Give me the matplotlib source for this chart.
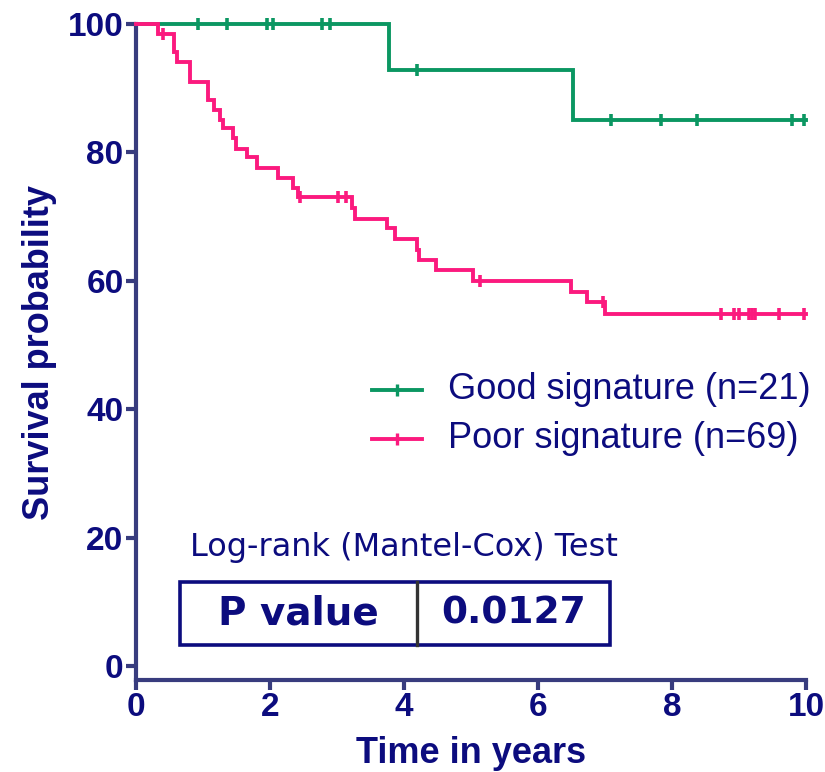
import matplotlib
matplotlib.use("Agg")
import matplotlib.pyplot as plt
from matplotlib.patches import Rectangle

# ---- data ----
good_event_times = [3.78, 6.52]
good_event_surv = [92.9, 85.0]
good_censor_times = [0.93, 1.36, 1.95, 2.04, 2.78, 2.90, 4.19, 7.09, 7.83, 8.37, 9.79, 9.97]

poor_event_times = [0.33, 0.57, 0.61, 0.81, 1.08, 1.16, 1.25, 1.30, 1.45, 1.49, 1.65, 1.80,
                    2.12, 2.35, 2.42, 3.22, 3.27, 3.74, 3.87, 4.20, 4.23, 4.48, 5.03, 6.49,
                    6.73, 7.00]
poor_event_surv = [98.5, 95.6, 94.1, 91.0, 88.2, 86.6, 85.0, 83.8, 82.2, 80.6, 79.3, 77.5,
                   76.0, 74.4, 73.0, 71.3, 69.7, 68.2, 66.5, 64.8, 63.2, 61.7, 60.0, 58.3,
                   56.7, 54.9]
poor_censor_times = [0.40, 2.45, 3.02, 3.13, 5.13, 6.97, 8.73, 8.92, 9.00, 9.15, 9.20, 9.24,
                     9.60, 9.97]

group_labels = ["Good signature (n=21)", "Poor signature (n=69)"]
x_ticks = [0, 2, 4, 6, 8, 10]
y_ticks = [0, 20, 40, 60, 80, 100]
test_title = "Log-rank (Mantel-Cox) Test"
p_label = "P value"
p_value = "0.0127"

GREEN = "#0b9762"
PINK = "#fb1a7e"
NAVY = "#0c0c7e"
AXC = "#383c7e"


def km_curve(ev_t, ev_s, end=10.0):
    xs = [0.0] + list(ev_t) + [end]
    ys = [100.0] + list(ev_s) + [ev_s[-1]]
    return xs, ys


def surv_at(t, ev_t, ev_s):
    s = 100.0
    for et, es in zip(ev_t, ev_s):
        if et <= t:
            s = es
    return s


fig = plt.figure(figsize=(8.25, 7.72), dpi=100)
ax = fig.add_axes([136 / 825, (772 - 680) / 772, (806 - 136) / 825, (680 - 24) / 772])

ymin = -100 * 14 / 642
ax.set_xlim(0, 10)
ax.set_ylim(ymin, 100)

for ev_t, ev_s, cens, col in [
    (good_event_times, good_event_surv, good_censor_times, GREEN),
    (poor_event_times, poor_event_surv, poor_censor_times, PINK),
]:
    xs, ys = km_curve(ev_t, ev_s)
    ax.step(xs, ys, where="post", color=col, lw=2.8, clip_on=False, zorder=3,
            solid_joinstyle="miter")
    cy = [surv_at(t, ev_t, ev_s) for t in cens]
    ax.plot(cens, cy, linestyle="none", marker="|", markersize=8, markeredgewidth=2.6,
            color=col, clip_on=False, zorder=3)

for sp in ["top", "right"]:
    ax.spines[sp].set_visible(False)
for sp in ["left", "bottom"]:
    ax.spines[sp].set_linewidth(3.0)
    ax.spines[sp].set_color(AXC)
    ax.spines[sp].set_capstyle("projecting")

ax.set_xticks(x_ticks)
ax.set_yticks(y_ticks)
ax.tick_params(axis="both", colors=AXC, width=3.0, length=7, labelcolor=NAVY,
               labelsize=24, pad=2)
for lbl in ax.get_xticklabels() + ax.get_yticklabels():
    lbl.set_fontfamily("Liberation Sans")
    lbl.set_fontweight("bold")

ax.set_xlabel("Time in years", fontsize=26, fontweight="bold", color=NAVY,
              family="Liberation Sans", labelpad=9)
ax.set_ylabel("Survival probability", fontsize=26, fontweight="bold", color=NAVY,
              family="Liberation Sans", labelpad=8)

# legend (manual, in data coords of the axes)
for i, (col, lab) in enumerate([(GREEN, group_labels[0]), (PINK, group_labels[1])]):
    ly = 43.0 - i * 7.6
    ax.plot([3.52, 4.27], [ly, ly], color=col, lw=2.8, zorder=3)
    ax.plot([3.9], [ly], marker="|", markersize=8, markeredgewidth=2.4, color=col)
    ax.text(4.66, ly, lab, fontsize=26, color=NAVY, family="Liberation Sans",
            va="center", ha="left")

# log-rank table
ax.text(4.0, 18.4, test_title, fontsize=23, color=NAVY, family="DejaVu Sans",
        ha="center", va="center")
box_x0 = (180 - 136) / 67
box_x1 = (610 - 136) / 67
box_y0 = (666 - 645) / 6.42
box_y1 = (666 - 582) / 6.42
div_x = (417 - 136) / 67
ax.add_patch(Rectangle((box_x0, box_y0), box_x1 - box_x0, box_y1 - box_y0,
                       fill=False, edgecolor=NAVY, lw=2.6, zorder=4))
ax.plot([div_x, div_x], [box_y0, box_y1], color="#333333", lw=2.4, zorder=5)
ax.text((box_x0 + div_x) / 2, (box_y0 + box_y1) / 2, p_label, fontsize=28,
        fontweight="bold", color=NAVY, family="DejaVu Sans", ha="center", va="center")
ax.text((div_x + box_x1) / 2, (box_y0 + box_y1) / 2, p_value, fontsize=27,
        fontweight="bold", color=NAVY, family="DejaVu Sans", ha="center", va="center")

fig.savefig("out.png", dpi=100)
